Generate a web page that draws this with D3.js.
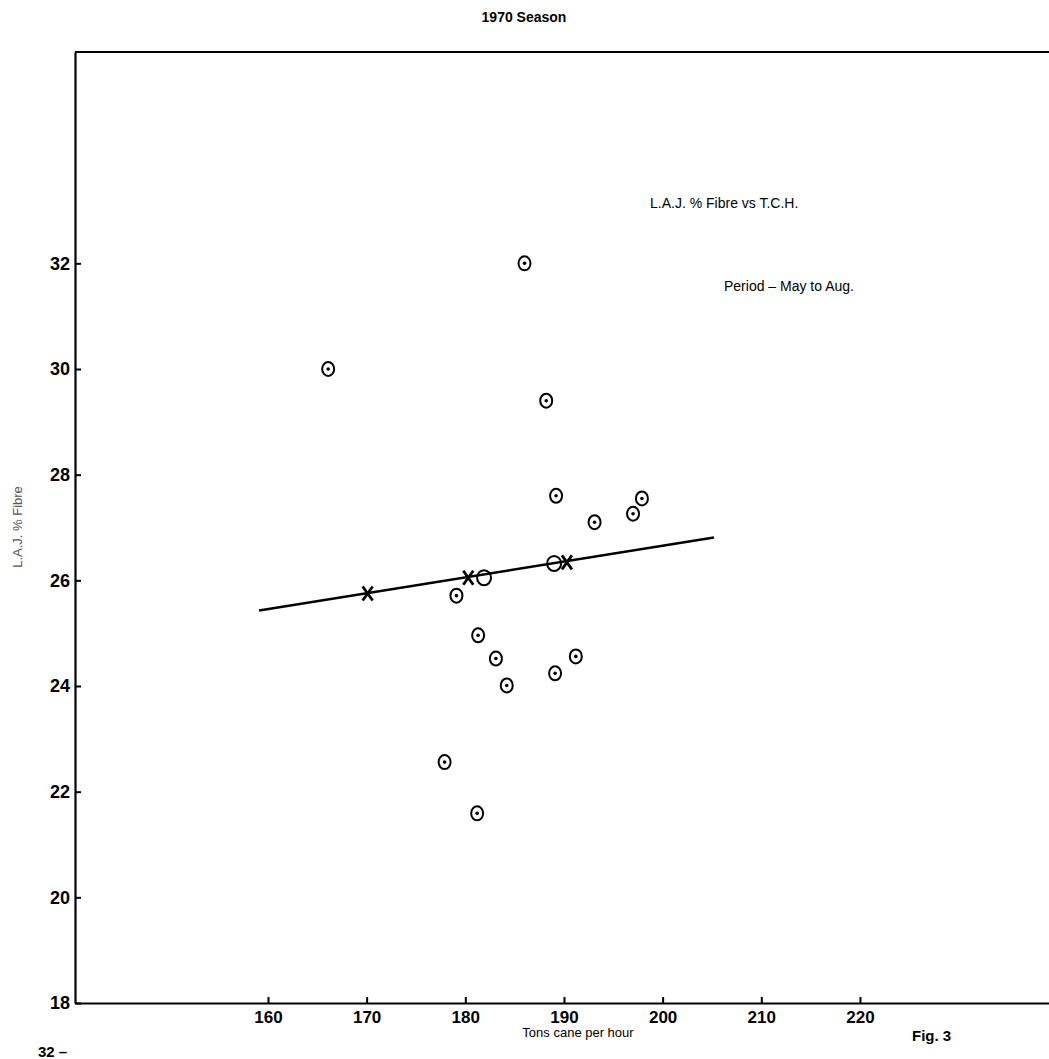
<!DOCTYPE html>
<html>
<head>
<meta charset="utf-8">
<script src="https://cdn.jsdelivr.net/npm/d3@7"></script>
<style>
  body { margin: 0; background: #fff; }
  svg { display: block; }
  .tick text { font-family: "Liberation Sans", Arial, sans-serif; font-weight: bold; fill: #000; }
</style>
</head>
<body>
<svg width="1049" height="1059" viewBox="0 0 1049 1059"></svg>
<script>
const xTicks = [160, 170, 180, 190, 200, 210, 220]
const yTicks = [18, 20, 22, 24, 26, 28, 30, 32]

// circled points (dot in centre): tons cane per hour, L.A.J. % fibre
const dotX = [186.0, 166.1, 188.2, 189.2, 193.1, 197.0, 197.9, 179.1, 181.3, 183.1, 191.2, 189.1, 184.2, 177.9, 181.2]
const dotY = [32.0, 30.0, 29.4, 27.6, 27.1, 27.26, 27.55, 25.71, 24.96, 24.52, 24.56, 24.24, 24.01, 22.56, 21.59]

// open circles sitting on the line
const ringX = [181.9, 189.0]
const ringY = [26.05, 26.32]

// crosses (group means)
const crossX = [170.1, 180.3, 190.3]
const crossY = [25.75, 26.05, 26.34]

// fitted line end points
const fitX = [159.1, 205.2]
const fitY = [25.43, 26.81]

const svg = d3.select('svg')
const font = '"Liberation Sans", Arial, sans-serif'

const x = d3.scaleLinear().domain([140.44, 239.16]).range([75, 1049])
const y = d3.scaleLinear().domain([18, 36]).range([1003, 52])

// axes
const yAxis = d3.axisLeft(y).tickValues(yTicks).tickSizeInner(-6).tickSizeOuter(0).tickPadding(5)
const xAxis = d3.axisBottom(x).tickValues(xTicks).tickSizeInner(-6).tickSizeOuter(0).tickPadding(8)

const gy = svg.append('g').attr('transform', `translate(${x.range()[0]},0)`).call(yAxis)
gy.selectAll('.tick text').attr('font-size', 18)
gy.selectAll('.tick line').attr('stroke-width', 2)
gy.select('.domain').attr('stroke-width', 2.2)

const gx = svg.append('g').attr('transform', `translate(0,${y.range()[0]})`).call(xAxis)
gx.selectAll('.tick text').attr('font-size', 17)
gx.selectAll('.tick line').attr('stroke-width', 2)
gx.select('.domain').attr('stroke-width', 2.2)

// top frame line
svg.append('line')
  .attr('x1', x.range()[0]).attr('x2', x.range()[1])
  .attr('y1', y(36)).attr('y2', y(36))
  .attr('stroke', '#000').attr('stroke-width', 2.2)

// fitted line
svg.append('line')
  .attr('x1', x(fitX[0])).attr('y1', y(fitY[0]))
  .attr('x2', x(fitX[1])).attr('y2', y(fitY[1]))
  .attr('stroke', '#000').attr('stroke-width', 2.6)

// circled points
const dots = d3.range(dotX.length)
svg.selectAll('ellipse.pt').data(dots).enter().append('ellipse')
  .attr('class', 'pt')
  .attr('cx', i => x(dotX[i])).attr('cy', i => y(dotY[i]))
  .attr('rx', 6).attr('ry', 7)
  .attr('fill', 'none').attr('stroke', '#000').attr('stroke-width', 2)
svg.selectAll('circle.centre').data(dots).enter().append('circle')
  .attr('class', 'centre')
  .attr('cx', i => x(dotX[i])).attr('cy', i => y(dotY[i]))
  .attr('r', 1.8).attr('fill', '#000')

// open circles
svg.selectAll('ellipse.ring').data(d3.range(ringX.length)).enter().append('ellipse')
  .attr('class', 'ring')
  .attr('cx', i => x(ringX[i])).attr('cy', i => y(ringY[i]))
  .attr('rx', 7).attr('ry', 7.5)
  .attr('fill', 'none').attr('stroke', '#000').attr('stroke-width', 2)

// crosses
const cross = svg.selectAll('g.cross').data(d3.range(crossX.length)).enter().append('g')
  .attr('class', 'cross')
  .attr('transform', i => `translate(${x(crossX[i])},${y(crossY[i])})`)
cross.append('path')
  .attr('d', 'M-5,-7L5,7M5,-7L-5,7')
  .attr('stroke', '#000').attr('stroke-width', 2.8).attr('fill', 'none')

// texts
svg.append('text')
  .attr('x', 524).attr('y', 22)
  .attr('text-anchor', 'middle')
  .attr('font-family', font).attr('font-size', 14).attr('font-weight', 'bold')
  .text('1970 Season')

svg.append('text')
  .attr('x', 650).attr('y', 208)
  .attr('font-family', font).attr('font-size', 14)
  .text('L.A.J. % Fibre vs T.C.H.')

svg.append('text')
  .attr('x', 724).attr('y', 291)
  .attr('font-family', font).attr('font-size', 14)
  .text('Period – May to Aug.')

svg.append('text')
  .attr('transform', 'translate(22,527) rotate(-90)')
  .attr('text-anchor', 'middle')
  .attr('font-family', font).attr('font-size', 13).attr('fill', '#555')
  .text('L.A.J. % Fibre')

svg.append('text')
  .attr('x', 578).attr('y', 1037)
  .attr('text-anchor', 'middle')
  .attr('font-family', font).attr('font-size', 13)
  .text('Tons cane per hour')

svg.append('text')
  .attr('x', 912).attr('y', 1041)
  .attr('font-family', font).attr('font-size', 15).attr('font-weight', 'bold')
  .text('Fig. 3')

// bit of the next page showing at the bottom edge
svg.append('text')
  .attr('x', 38).attr('y', 1057)
  .attr('font-family', font).attr('font-size', 15).attr('font-weight', 'bold')
  .text('32 –')
</script>
</body>
</html>
